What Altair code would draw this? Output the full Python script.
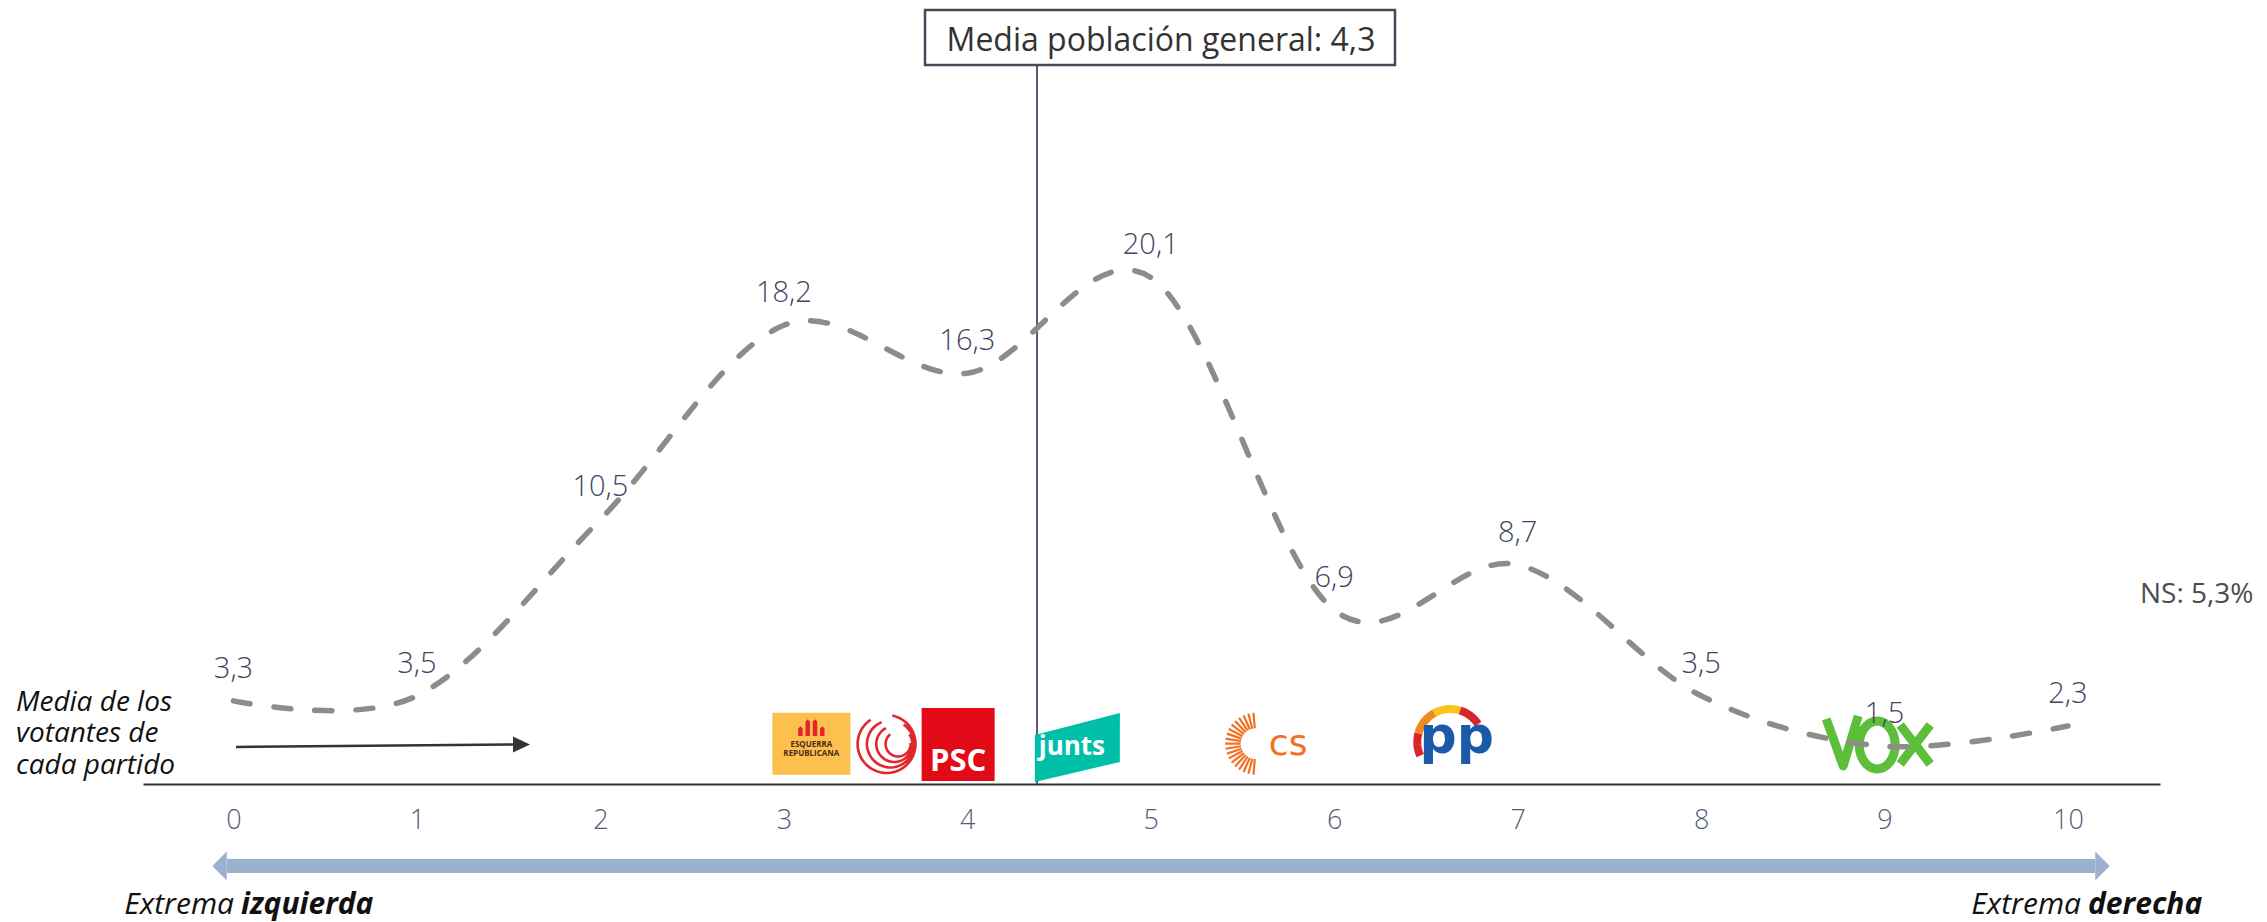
import math
import altair as alt
import pandas as pd

# ---------------- data ----------------
scores = [0, 1, 2, 3, 4, 5, 6, 7, 8, 9, 10]
pct = [3.3, 3.5, 10.5, 18.2, 16.3, 20.1, 6.9, 8.7, 3.5, 1.5, 2.3]
tick_values = [0, 1, 2, 3, 4, 5, 6, 7, 8, 9, 10]
media_text = "Media población general: 4,3"
media_x = 4.38
ns_text = "NS: 5,3%"
left_note = "Media de los\nvotantes de\ncada partido"
parties = ["ERC", "Comuns", "PSC", "Junts", "Cs", "PP", "Vox"]
party_x = [3.15, 3.56, 3.95, 4.60, 5.64, 6.66, 8.96]
logo_y = 1.6

# ---------------- style ----------------
FONT = "Open Sans"
LABEL_COL = "#41465F"
TICK_COL = "#555B7A"
W, H = 2017, 776
XS = alt.Scale(domain=[-0.4933, 10.5016], nice=False, zero=False)
YS = alt.Scale(domain=[0, 30.79], nice=False, zero=False)

one = pd.DataFrame({"k": [0]})
df = pd.DataFrame({"score": scores, "pct": pct})


def XD(v):
    return alt.XDatum(v, axis=None)


def YD(v):
    return alt.YDatum(v, axis=None)


def rect_path(w, h):
    s = max(w, h)
    hx, hy = w / s, h / s
    return f"M{-hx:.3f},{-hy:.3f}L{hx:.3f},{-hy:.3f}L{hx:.3f},{hy:.3f}L{-hx:.3f},{hy:.3f}Z"


def arc_shape(cx, cy, r, a0, a1, S, steps=40):
    pts = []
    for k in range(steps + 1):
        a = a0 + (a1 - a0) * k / steps
        pts.append(f"{(cx + r * math.sin(a)) / S:.3f},{(cy - r * math.cos(a)) / S:.3f}")
    return "M" + "L".join(pts)


def pt(i, **mk):
    return alt.Chart(one).mark_point(**mk).encode(x=XD(party_x[i]), y=YD(logo_y))


def tx(i, text, **mk):
    return alt.Chart(one).mark_text(**mk).encode(
        x=XD(party_x[i]), y=YD(logo_y), text=alt.value(text))


# ---------------- main series ----------------
line = alt.Chart(df).mark_line(
    interpolate="cardinal", tension=0, strokeDash=[17, 24], strokeCap="round",
    strokeWidth=5.5, color="#8D8C88"
).encode(
    x=alt.X("score:Q", scale=XS, title=None,
            axis=alt.Axis(values=tick_values, format="d", labelFontSize=27, labelFont=FONT,
                          labelFontWeight=300, labelColor=TICK_COL, labelPadding=23,
                          ticks=False, grid=False, domainColor="#333333", domainWidth=2,
                          labelFlush=False, labelOverlap=False, title=None)),
    y=alt.Y("pct:Q", scale=YS, axis=None, title=None),
)

labels = alt.Chart(df).transform_calculate(
    lab="replace(format(datum.pct, '.1f'), '.', ',')"
).mark_text(font=FONT, fontSize=29, fontWeight=300, color=LABEL_COL, dy=-32,
            align="center", baseline="middle").encode(
    x=alt.X("score:Q", axis=None), y=alt.Y("pct:Q", axis=None), text="lab:N")

# ---------------- media line + box ----------------
vrule = alt.Chart(one).mark_rule(color="#5E5870", strokeWidth=2).encode(
    x=XD(media_x), y=YD(0), y2=alt.Y2Datum(28.5))
box = alt.Chart(one).mark_rect(fill="white", stroke="#4B4658", strokeWidth=2.5).encode(
    x=alt.value(782), x2=alt.value(1252), y=alt.value(2), y2=alt.value(57))
box_text = alt.Chart(one).mark_text(font=FONT, fontSize=32, color="#333333",
                                    align="center", baseline="middle").encode(
    x=alt.value(1018), y=alt.value(33), text=alt.value(media_text))

# ---------------- logos ----------------
logos = []
# ERC
logos.append(pt(0, shape=rect_path(78, 62), size=78 ** 2, filled=True, fill="#FBC04E",
                opacity=1, strokeWidth=0))
bars = []
for x0, top in [(-0.94, -0.1), (-0.42, -0.6), (0.10, -0.6), (0.62, -0.1)]:
    x1 = x0 + 0.32
    xm = (x0 + x1) / 2
    bars.append(f"M{x0:.2f},0.6L{x0:.2f},{top + 0.15:.2f}L{xm:.2f},{top:.2f}L{x1:.2f},{top + 0.15:.2f}L{x1:.2f},0.6Z")
logos.append(pt(0, shape="".join(bars), size=28 ** 2, filled=True, fill="#E4262C",
                opacity=1, strokeWidth=0, yOffset=-16))
logos.append(tx(0, "ESQUERRA", font=FONT, fontSize=8, fontWeight="bold", color="#4B2A14",
                align="center", baseline="middle", yOffset=1))
logos.append(tx(0, "REPUBLICANA", font=FONT, fontSize=8, fontWeight="bold", color="#4B2A14",
                align="center", baseline="middle", yOffset=10))
# Comuns rings
ring_path = ""
for r, t0, t1 in [(29, 0.2, 5.7), (23.5, 0.6, 5.9), (18, 1.0, 5.8), (12.5, 1.5, 5.6)]:
    ring_path += arc_shape((29 - r) * 0.7, 0, r, t0, t1, 32)
logos.append(pt(1, shape=ring_path, size=64 ** 2, filled=False, stroke="#E3262E",
                strokeWidth=2.6, opacity=1, yOffset=0.3))
# PSC
logos.append(pt(2, shape="square", size=73 ** 2, filled=True, fill="#E30A18", opacity=1,
                strokeWidth=0, yOffset=0.8))
logos.append(tx(2, "PSC", font=FONT, fontSize=31, fontWeight="bold", color="white",
                align="center", baseline="middle", yOffset=18))
# Junts
logos.append(pt(3, shape="M-1,-0.294L1,-0.812L1,0.341L-1,0.812Z", size=85 ** 2, filled=True,
                fill="#00BFA9", opacity=1, strokeWidth=0, yOffset=3.8))
logos.append(tx(3, "junts", font=FONT, fontSize=26, fontWeight="bold", color="white",
                align="center", baseline="middle", xOffset=-5.5, yOffset=3.5))
# Cs
rays = []
n = 19
for k in range(n):
    a = math.radians(95 + k * 170 / (n - 1))
    rays.append(f"M{0.5 * math.cos(a):.3f},{0.5 * math.sin(a):.3f}L{math.cos(a):.3f},{math.sin(a):.3f}")
logos.append(pt(4, shape="".join(rays), size=62 ** 2, filled=False, stroke="#F36F21",
                strokeWidth=2.2, opacity=1, xOffset=-12))
logos.append(tx(4, "cs", font="DejaVu Sans", fontSize=36, color="#F36F21",
                align="center", baseline="alphabetic", xOffset=20, yOffset=11))
# PP
for t0, t1, col in [(-2.0, -1.3, "#D8262C"), (-1.3, -0.5, "#F08A1C"),
                    (-0.5, 0.3, "#FBC41A"), (0.3, 1.0, "#D4262C")]:
    logos.append(pt(5, shape=arc_shape(-5, -1.7, 33, t0, t1, 45, 16), size=90 ** 2,
                    filled=False, stroke=col, strokeWidth=8, opacity=1))
logos.append(tx(5, "pp", font="DejaVu Sans", fontSize=52, fontWeight="bold", color="#1A5AA8",
                align="center", baseline="alphabetic", xOffset=1.5, yOffset=9.3))
# VOX
def q(px, py):
    return f"{(px - 1877) / 55.5:.3f},{(py - 743) / 55.5:.3f}"
vpath = f"M{q(1826, 719)}L{q(1843, 766)}L{q(1858, 716)}"
ell = []
for k in range(29):
    a = 2 * math.pi * k / 28
    ell.append(q(1877 + 18 * math.cos(a), 745 + 24 * math.sin(a)))
vpath += "M" + "L".join(ell) + "Z"
vpath += f"M{q(1900, 725)}L{q(1930, 764)}M{q(1930, 725)}L{q(1900, 764)}"
logos.append(pt(6, shape=vpath, size=111 ** 2, filled=False, stroke="#5DBE3A",
                strokeWidth=9, strokeJoin="round", opacity=1, yOffset=-0.7))

# ---------------- annotations ----------------
arrow_col = "#9BB1CF"
dbl_shaft = alt.Chart(one).mark_rule(color=arrow_col, strokeWidth=14).encode(
    x=alt.value(84), x2=alt.value(1952), y=alt.value(858))
dbl_left = alt.Chart(one).mark_point(shape="M0.5,-1L-0.5,0L0.5,1Z", size=29 ** 2, filled=True,
                                     fill=arrow_col, opacity=1, strokeWidth=0).encode(
    x=alt.value(76.5), y=alt.value(858))
dbl_right = alt.Chart(one).mark_point(shape="M-0.5,-1L0.5,0L-0.5,1Z", size=29 ** 2, filled=True,
                                      fill=arrow_col, opacity=1, strokeWidth=0).encode(
    x=alt.value(1959.5), y=alt.value(858))

blk_shaft = alt.Chart(one).mark_rule(color="#333333", strokeWidth=2.5).encode(
    x=alt.value(93), x2=alt.value(372), y=alt.value(739), y2=alt.value(736.5))
blk_head = alt.Chart(one).mark_point(shape="M-1,-0.94L1,0L-1,0.94Z", size=17 ** 2, filled=True,
                                     fill="#333333", opacity=1, strokeWidth=0).encode(
    x=alt.value(378.5), y=alt.value(736.5))

note_lines = left_note.split("\n")
notes = [
    alt.Chart(one).mark_text(font=FONT, fontSize=28, fontStyle="italic", color="#111111",
                             align="left", baseline="alphabetic").encode(
        x=alt.value(-127), y=alt.value(702.7 + 31.7 * k), text=alt.value(t))
    for k, t in enumerate(note_lines)
]

ns = alt.Chart(one).mark_text(font=FONT, fontSize=28, color="#4D4D4D", align="left",
                              baseline="alphabetic").encode(
    x=alt.value(1997), y=alt.value(595), text=alt.value(ns_text))


def etext(x, t, bold):
    return alt.Chart(one).mark_text(font=FONT, fontSize=30, fontStyle="italic",
                                    fontWeight="bold" if bold else "normal", color="#111111",
                                    align="left" if bold else "right",
                                    baseline="alphabetic").encode(
        x=alt.value(x), y=alt.value(906), text=alt.value(t))


ext = [etext(91, "Extrema", False), etext(98, "izquierda", True),
       etext(1938, "Extrema", False), etext(1945, "derecha", True)]

chart = alt.layer(
    vrule, *logos, line, labels, box, box_text,
    dbl_shaft, dbl_left, dbl_right, blk_shaft, blk_head, *notes, ns, *ext
).resolve_axis(
    x="independent", y="independent"
).properties(
    width=W, height=H,
    background="white",
    autosize=alt.AutoSizeParams(type="none"),
    padding={"left": 135, "top": 0, "right": 99, "bottom": 138},
).configure_view(stroke=None)

chart.save("out.html", embed_options={"renderer": "svg", "actions": False})
